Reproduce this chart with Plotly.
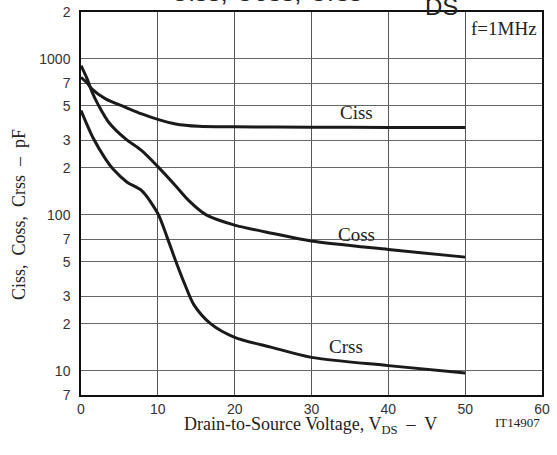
import math
import plotly.graph_objects as go

# Capacitance vs drain-to-source voltage (f = 1 MHz)
v_ciss = [0, 0.8, 1.4, 3.2, 5.8, 7.9, 10.1, 12.3, 15.3, 20, 30, 40, 50]
ciss = [763, 700, 643, 555, 490, 444, 408, 383, 370, 367, 365, 364, 363]

v_coss = [0, 0.8, 1.4, 2.3, 3.6, 5.8, 7.9, 10, 12.3, 14, 16.3, 20, 25, 30, 40, 50]
coss = [906, 745, 620, 502, 393, 307, 258, 204, 154, 124, 100, 86, 76, 68, 60, 53.6]

v_crss = [0, 1.6, 3.2, 4.2, 6, 7.9, 10, 11.2, 12.3, 13.6, 14.7, 16.9, 20, 24.7, 30, 40, 50]
crss = [467, 310, 228, 196, 162, 143, 102, 72, 51, 35, 26.5, 20, 16.4, 14.2, 12.2, 10.8, 9.7]

x_ticks = [0, 10, 20, 30, 40, 50, 60]
y_ticks = [7, 10, 20, 30, 50, 70, 100, 200, 300, 500, 700, 1000, 2000]
y_ticktext = ["7", "10", "2", "3", "5", "7", "100", "2", "3", "5", "7", "1000", "2"]
decades = [10, 100, 1000]

curve_labels = ["Ciss", "Coss", "Crss"]
label_x = [35.9, 35.8, 34.5]
label_y = [451, 74.5, 14.3]

# gaps cut into the gridlines behind the Ciss / Coss labels: (x0, x1, y0, y1)
label_gaps = [(33.4, 38.8, 480, 520), (32.8, 39.3, 67, 73)]

fig = go.Figure()
for vx, cy in [(v_ciss, ciss), (v_coss, coss), (v_crss, crss)]:
    fig.add_trace(go.Scatter(
        x=vx, y=cy, mode="lines",
        line=dict(color="#1a1a1a", width=3, shape="spline", smoothing=0.8),
        showlegend=False, hoverinfo="skip",
    ))

# darker decade gridlines (log axis: shape positions in log10 units)
for d in decades:
    fig.add_shape(type="line", xref="paper", x0=0, x1=1, yref="y",
                  y0=math.log10(d), y1=math.log10(d),
                  line=dict(color="#222", width=1.2), layer="between")

for gx0, gx1, gy0, gy1 in label_gaps:
    fig.add_shape(type="rect", xref="x", yref="y", x0=gx0, x1=gx1,
                  y0=math.log10(gy0), y1=math.log10(gy1),
                  fillcolor="white", line=dict(width=0), layer="between")

serif = "Liberation Serif"
sans = "Liberation Sans"
ink = "#222"

annotations = []
for t, lx, ly in zip(curve_labels, label_x, label_y):
    annotations.append(dict(
        x=lx, y=math.log10(ly), xref="x", yref="y", text=t, showarrow=False,
        xanchor="center", yanchor="middle",
        font=dict(family=serif, size=19, color=ink),
    ))

annotations += [
    dict(x=55, y=math.log10(1557), xref="x", yref="y", text="f=1MHz",
         showarrow=False, xanchor="center", yanchor="middle",
         font=dict(family=serif, size=19, color=ink)),
    dict(x=0.497, y=-0.079, xref="paper", yref="paper",
         text="Drain-to-Source Voltage, V<sub>DS</sub>  –  V", showarrow=False,
         xanchor="center", yanchor="middle",
         font=dict(family=serif, size=18, color=ink)),
    dict(x=1.0, y=-0.072, xref="paper", yref="paper", text="IT14907",
         showarrow=False, xanchor="right", yanchor="middle",
         font=dict(family=serif, size=13, color=ink)),
    dict(x=-0.1345, y=0.4726, xref="paper", yref="paper", textangle=-90,
         text="Ciss,  Coss,  Crss  –  pF", showarrow=False,
         xanchor="center", yanchor="middle",
         font=dict(family=serif, size=18, color=ink)),
    # chart title, running off the top edge
    dict(x=0.1887, y=1.007, xref="paper", yref="paper",
         text="Ciss, Coss, Crss\u00a0\u00a0\u00a0–\u00a0\u00a0\u00a0V", showarrow=False,
         xanchor="left", yanchor="bottom",
         font=dict(family=sans, size=26, color=ink)),
    dict(x=0.742, y=0.975, xref="paper", yref="paper", text="DS",
         showarrow=False, xanchor="left", yanchor="bottom",
         font=dict(family=sans, size=24, color=ink)),
]

fig.update_layout(
    width=557, height=455,
    margin=dict(l=81, r=15, t=12, b=60),
    paper_bgcolor="white", plot_bgcolor="white",
    annotations=annotations,
    xaxis=dict(
        range=[0, 60], tickvals=x_ticks, showgrid=True, gridcolor="#555",
        gridwidth=1, zeroline=False, showline=True, linecolor="#111",
        linewidth=1.5, mirror=True, ticks="", ticklabelstandoff=0,
        automargin=False,
        tickfont=dict(family=sans, size=14, color="#333"),
    ),
    yaxis=dict(
        type="log", range=[0.8451, 3.30103], tickvals=y_ticks,
        ticktext=y_ticktext, showgrid=True, gridcolor="#666", gridwidth=1,
        zeroline=False, showline=True, linecolor="#111", linewidth=1.5,
        mirror=True, ticks="", ticklabelstandoff=6, automargin=False,
        tickfont=dict(family=sans, size=14, color="#333"),
    ),
)

fig.write_html("out.html")
